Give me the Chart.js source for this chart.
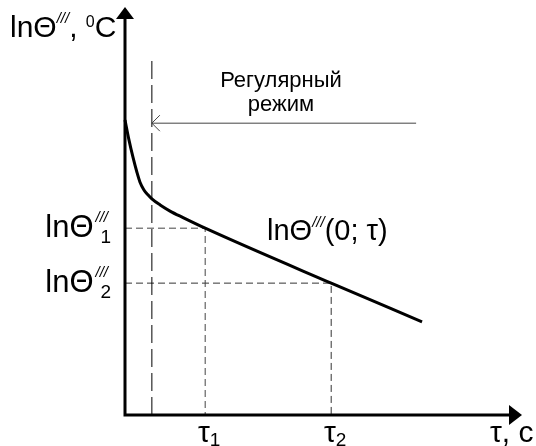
<!DOCTYPE html>
<html>
<head>
<meta charset="utf-8">
<script src="https://cdn.jsdelivr.net/npm/chart.js@4.4.1/dist/chart.umd.min.js"></script>
<style>
  html, body { margin: 0; padding: 0; background: #fff; }
  #wrap { width: 536px; height: 446px; position: relative; }
</style>
</head>
<body>
<div id="wrap"><canvas id="chart"></canvas></div>
<script>
// ln of temperature vs time, schematic (arbitrary units, axes without ticks)
const curveTau      = [0,    1.0,  2.0,  3.0,  3.8,  4.8,  5.8,  6.8,  8.9,  11.4, 14.7, 20.3, 52.2, 75.2];
const curveLnTheta  = [72.5, 67.6, 63.4, 59.7, 57.2, 55.3, 54.1, 53.1, 51.6, 50.1, 48.5, 45.9, 32.4, 22.9];

const regimeTau = 6.8;        // start of regular regime
const regimeTop = 87.7;
const arrowFrom = 73.7;       // arrow "Регулярный режим"
const arrowLevel = 71.7;

const tau1 = 20.3, lnTheta1 = 45.9;
const tau2 = 52.2, lnTheta2 = 32.4;

const FONT = '"Liberation Sans", Arial, sans-serif';

// draw text pieces one after another: {t, size, dy, italic, stack, dx}
function rich(ctx, parts, x, y, align) {
  let w = 0;
  parts.forEach(p => {
    ctx.font = (p.italic ? 'italic ' : '') + p.size + 'px ' + FONT;
    p.w = ctx.measureText(p.t).width;
    if (!p.stack) w += p.w;
  });
  let cx = align === 'right' ? x - w : align === 'center' ? x - w / 2 : x;
  let last = cx;
  parts.forEach(p => {
    ctx.font = (p.italic ? 'italic ' : '') + p.size + 'px ' + FONT;
    const px = (p.stack ? last : cx) + (p.dx || 0);
    ctx.fillText(p.t, px, y + (p.dy || 0));
    if (!p.stack) { last = cx; cx += p.w; }
  });
}

const annotations = {
  id: 'annotations',
  afterDatasetsDraw(chart) {
    const { ctx, scales: { x, y } } = chart;
    const x0 = x.getPixelForValue(0), y0 = y.getPixelForValue(0);
    ctx.save();
    ctx.fillStyle = '#000';
    ctx.strokeStyle = '#000';

    // axes
    ctx.lineWidth = 3;
    ctx.beginPath();
    ctx.moveTo(x0, y0 + 1.5); ctx.lineTo(x0, 16);
    ctx.moveTo(x0 - 1.5, y0); ctx.lineTo(512, y0);
    ctx.stroke();
    ctx.beginPath();
    ctx.moveTo(x0, 7); ctx.lineTo(x0 + 9, 19); ctx.lineTo(x0 - 9, 19); ctx.closePath();
    ctx.fill();
    ctx.beginPath();
    ctx.moveTo(522, y0); ctx.lineTo(509, y0 - 10); ctx.lineTo(509, y0 + 10); ctx.closePath();
    ctx.fill();

    // open arrowhead of the regime arrow
    const ax = x.getPixelForValue(regimeTau), ay = y.getPixelForValue(arrowLevel);
    ctx.strokeStyle = '#444';
    ctx.lineWidth = 1;
    ctx.beginPath();
    ctx.moveTo(ax + 8, ay - 8); ctx.lineTo(ax, ay); ctx.lineTo(ax + 8, ay + 8);
    ctx.stroke();

    ctx.textBaseline = 'alphabetic';
    // y axis title
    rich(ctx, [
      { t: 'lnΘ', size: 30 },
      { t: '///', size: 15, dy: -14, italic: true },
      { t: ', ', size: 30 },
      { t: '0', size: 16, dy: -10 },
      { t: 'C', size: 30 }
    ], 10, 37);

    // levels
    [[lnTheta1, '1'], [lnTheta2, '2']].forEach(([v, s]) => {
      const py = y.getPixelForValue(v) + 9;
      rich(ctx, [
        { t: 'lnΘ', size: 31 },
        { t: '///', size: 15, dy: -15, italic: true, dx: 2 },
        { t: s, size: 19, dy: 6, stack: true, dx: 7 }
      ], x0 - 19, py, 'right');
    });

    // tau labels
    [[tau1, '1'], [tau2, '2']].forEach(([v, s]) => {
      rich(ctx, [
        { t: 'τ', size: 30 },
        { t: s, size: 19, dy: 4 }
      ], x.getPixelForValue(v) + 4, y0 + 27, 'center');
    });
    rich(ctx, [{ t: 'τ, c', size: 30 }], 490, y0 + 27);

    // curve label
    rich(ctx, [
      { t: 'lnΘ', size: 29 },
      { t: '///', size: 15, dy: -13, italic: true },
      { t: '(0; τ)', size: 29 }
    ], 267, 240);

    // regime text
    ctx.font = '22px ' + FONT;
    ctx.textAlign = 'center';
    ctx.fillText('Регулярный', 281, 87);
    ctx.fillText('режим', 281, 111);
    ctx.restore();
  }
};

new Chart(document.getElementById('chart'), {
  type: 'line',
  data: {
    datasets: [
      {
        data: curveTau.map((t, i) => ({ x: t, y: curveLnTheta[i] })),
        borderColor: '#000',
        borderWidth: 3,
        cubicInterpolationMode: 'monotone',
      },
      {
        data: [{ x: regimeTau, y: 0 }, { x: regimeTau, y: regimeTop }],
        borderColor: '#000',
        borderWidth: 1,
        borderDash: [18, 6],
      },
      {
        data: [{ x: 0, y: lnTheta1 }, { x: tau1, y: lnTheta1 }, { x: tau1, y: 0 }],
        borderColor: '#444',
        borderWidth: 1,
        borderDash: [7, 4],
      },
      {
        data: [{ x: 0, y: lnTheta2 }, { x: tau2, y: lnTheta2 }, { x: tau2, y: 0 }],
        borderColor: '#333',
        borderWidth: 1,
        borderDash: [7, 4],
      },
      {
        data: [{ x: arrowFrom, y: arrowLevel }, { x: regimeTau, y: arrowLevel }],
        borderColor: '#444',
        borderWidth: 1,
      }
    ]
  },
  options: {
    responsive: true,
    maintainAspectRatio: false,
    animation: false,
    devicePixelRatio: 1,
    layout: { padding: { left: 125, right: 16, top: 8, bottom: 31 } },
    elements: { point: { radius: 0, hoverRadius: 0 }, line: { tension: 0 } },
    datasets: { line: { clip: false, fill: false } },
    plugins: { legend: { display: false }, tooltip: { enabled: false } },
    scales: {
      x: { type: 'linear', min: 0, max: 100, display: false },
      y: { type: 'linear', min: 0, max: 100, display: false }
    }
  },
  plugins: [annotations]
});
</script>
</body>
</html>
